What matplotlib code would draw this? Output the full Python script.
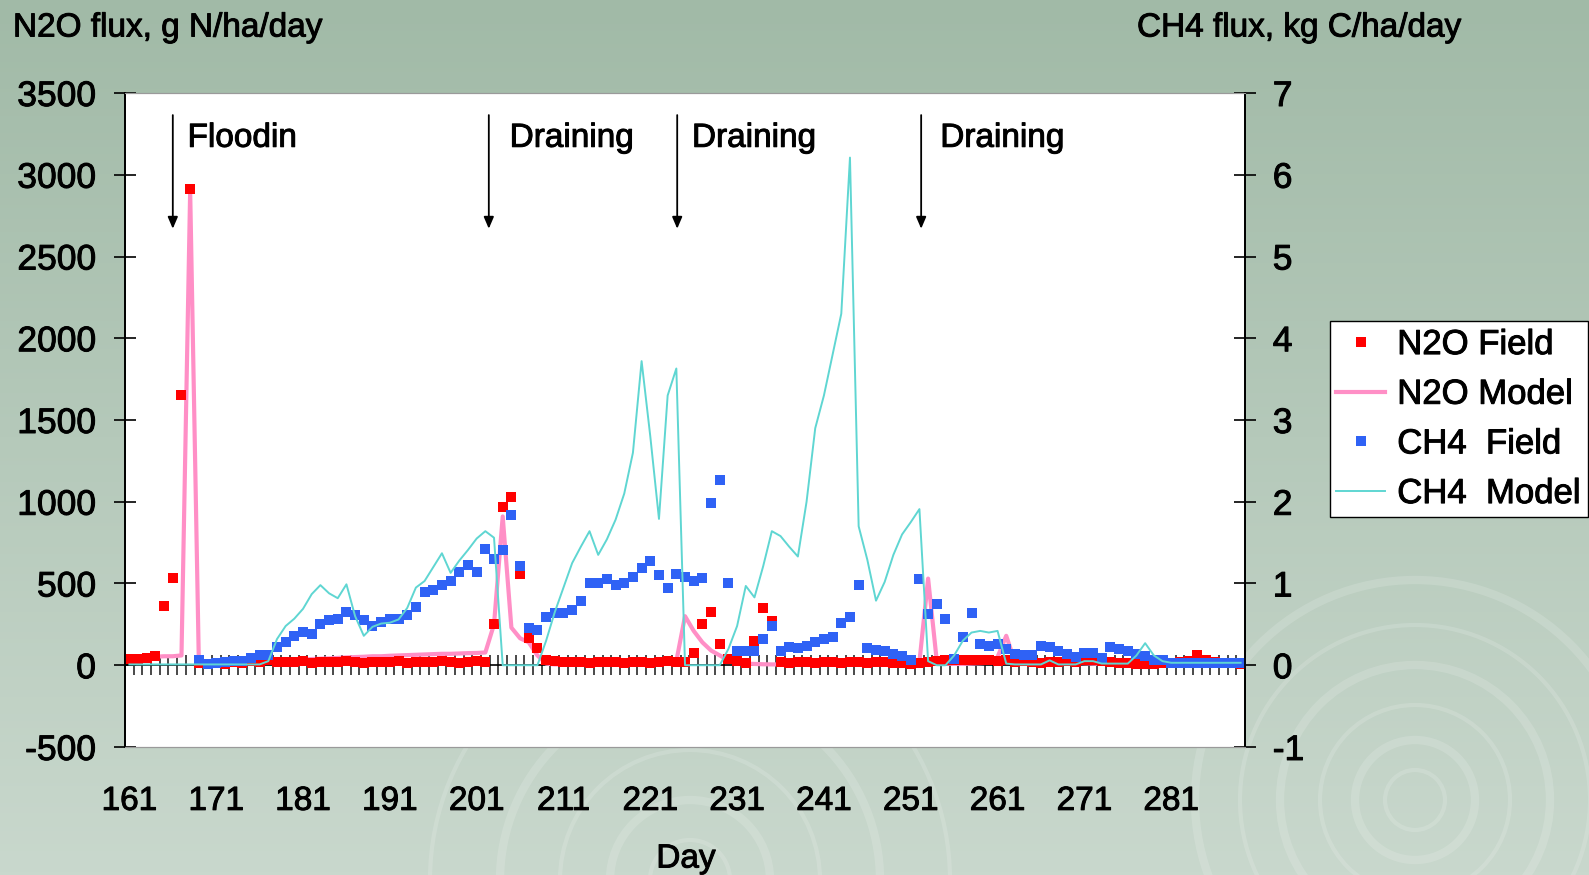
import numpy as np
import matplotlib.pyplot as plt
import matplotlib.patheffects as pe
from matplotlib.colors import LinearSegmentedColormap
from matplotlib.patches import Circle

plt.rcParams['font.family'] = ['Liberation Sans', 'DejaVu Sans']
plt.rcParams['axes.unicode_minus'] = False

# --- data: daily values, day of year 161..289 ---
days = np.arange(161, 290)

n2o_field = [
    40, 38, 42, 58, 360, 535, 1653, 2915,
    15, 10, 12, 8, 20, 15, 25, 18, 30, 22, 20, 18, 25, 15, 20, 22, 18, 25, 20, 15,
    22, 18, 20, 25, 15, 20, 18, 22, 25, 20, 15, 20, 25, 18,
    250, 966, 1030, 556, 166, 105,
    30, 25, 20, 22, 18, 15, 20, 18, 22, 15, 20, 18, 15, 20, 25, 20, 18,
    77, 253, 327, 131, 40, 25, 15, 151, 348, 273,
    20, 15, 18, 22, 15, 20, 18, 15, 20, 18,
    15, 20, 18, 15, 12, 10, 15, 20, 25, 30,
    30, 35, 30, 35, 30, 25, 30, 20, 25, 20,
    15, 20, 18, 25, 20, 30, 35, 25, 20, 15,
    12, 10, 8, 10, 12, 15, 20, 25, 65, 35,
    20, 15, 12, 10,
]

n2o_model = [
    50, 50, 50, 52, 55, 55, 60, 2900,
    15, 10, 12, 14, 16, 18, 20, 22, 25, 28, 30, 32,
    35, 38, 40, 42, 45, 48, 50, 52, 55, 55,
    58, 60, 62, 64, 66, 68, 70, 70, 72, 74, 75, 78,
    250, 910, 230, 165, 140, 60, 10,
    5, 5, 5, 6, 6, 7, 8, 8, 9, 10, 10, 12, 14, 18,
    25, 300, 210, 140, 90, 60, 30, 15,
    10, 8, 6, 5, 5, 5, 4, 4, 4, 4, 4, 4, 4, 5, 5, 5, 6, 6, 8,
    10, 20, 530, 25, 10,
    8, 8, 10, 12, 15, 50, 180, 20,
    10, 8, 8, 10, 12, 15, 15, 12, 10, 8, 8, 10, 12, 10, 8, 8, 10, 12, 15, 15,
    12, 10, 8, 8, 6, 6,
]

ch4_days = np.arange(169, 290)
ch4_field = [
    0.06, 0.02, 0.03, 0.04, 0.05, 0.05, 0.09, 0.13, 0.13, 0.22,
    0.29, 0.36, 0.41, 0.38, 0.50, 0.55, 0.57, 0.65, 0.61, 0.55,
    0.48, 0.53, 0.57, 0.57, 0.61, 0.71, 0.90, 0.92, 0.98, 1.03,
    1.14, 1.23, 1.14, 1.42, 1.30, 1.41, 1.84, 1.22, 0.45, 0.43,
    0.59, 0.64, 0.64, 0.68, 0.79, 1.00, 1.00, 1.05, 0.98, 1.01,
    1.08, 1.19, 1.27, 1.11, 0.94, 1.12, 1.08, 1.03, 1.07, 1.99,
    2.27, 1.00, 0.17, 0.18, 0.18, 0.32, 0.48, 0.17, 0.22, 0.21,
    0.24, 0.28, 0.32, 0.34, 0.52, 0.59, 0.98, 0.21, 0.19, 0.17,
    0.14, 0.11, 0.06, 1.05, 0.63, 0.75, 0.57, 0.08, 0.34, 0.64,
    0.26, 0.24, 0.26, 0.20, 0.14, 0.12, 0.12, 0.24, 0.22, 0.18,
    0.14, 0.10, 0.15, 0.15, 0.09, 0.22, 0.20, 0.17, 0.14, 0.11,
    0.07, 0.07, 0.03, 0.03, 0.03, 0.03, 0.03, 0.03, 0.03, 0.03, 0.03,
]

ch4_model = [
    0.01, 0.01, 0.01, 0.01, 0.01, 0.01, 0.01, 0.01,
    0.01, 0.01, 0.01, 0.01, 0.01, 0.01, 0.01, 0.01,
    0.05, 0.32, 0.48, 0.57, 0.69, 0.87, 0.98, 0.88, 0.82, 0.99,
    0.60, 0.36, 0.47, 0.51, 0.52, 0.56, 0.70, 0.95, 1.03, 1.20,
    1.37, 1.13, 1.28, 1.41, 1.55, 1.64, 1.56, 0.00, 0.00, 0.00,
    0.00, 0.00, 0.30, 0.65, 0.95, 1.25, 1.45, 1.64, 1.35, 1.54,
    1.78, 2.10, 2.60, 3.72, 2.80, 1.79, 3.30, 3.63, 0.00, 0.00,
    0.00, 0.00, 0.00, 0.20, 0.48, 0.97, 0.83, 1.21, 1.64, 1.58,
    1.45, 1.33, 2.00, 2.90, 3.30, 3.80, 4.30, 6.21, 1.70, 1.29,
    0.79, 1.02, 1.35, 1.60, 1.75, 1.91, 0.05, 0.00, 0.00, 0.12,
    0.30, 0.40, 0.42, 0.40, 0.42, 0.02, 0.01, 0.01, 0.01, 0.01,
    0.06, 0.01, 0.01, 0.01, 0.05, 0.05, 0.02, 0.02, 0.02, 0.02,
    0.12, 0.27, 0.12, 0.05, 0.03, 0.03, 0.03, 0.03, 0.03, 0.03, 0.03, 0.03, 0.03,
]

# management events (arrow day, label start day)
event_days = [166.0, 202.4, 224.1, 252.2]
event_text = ["Floodin", "Draining", "Draining", "Draining"]
event_text_days = [167.7, 204.8, 225.8, 254.4]

x_labels = np.arange(161, 290, 10)
n2o_ticks = np.arange(-500, 3501, 500)
ch4_ticks = np.arange(-1, 8, 1)

RED = "#ff0000"
PINK = "#ff8fc6"
BLUE = "#2f62f5"
CYAN = "#5fd6d2"
FS = 24

fig = plt.figure(figsize=(15.89, 8.75), dpi=100)

# slide background: soft green gradient with faint rings
bg = fig.add_axes([0, 0, 1, 1], zorder=-10)
cmap = LinearSegmentedColormap.from_list("bg", ["#a1baa7", "#c9d8cd"])
bg.imshow(np.linspace(0, 1, 256).reshape(-1, 1), aspect="auto", cmap=cmap,
          extent=[0, 1589, 875, 0])
for cx, cy, radii in [(1415, 800, [30, 60, 95, 135, 175, 220]),
                      (690, 880, [40, 80, 130, 190, 260])]:
    for i, r in enumerate(radii):
        bg.add_patch(Circle((cx, cy), r, fill=False, ec="white",
                            lw=6 if i % 2 else 3, alpha=0.15))
bg.set_xlim(0, 1589)
bg.set_ylim(875, 0)
bg.axis("off")

ax = fig.add_axes([0.0787, 0.1463, 0.7048, 0.7474])
ax.set_facecolor("white")
ax.set_xlim(160.5, 289.5)
ax.set_ylim(-500, 3500)
ax2 = ax.twinx()
ax2.set_ylim(-1, 7)

# N2O on the primary axis
h1, = ax.plot(days, n2o_model, color=PINK, lw=3, zorder=2, label="N2O Model")
h0, = ax.plot(days, n2o_field, ls="none", marker="s", ms=6.5, mew=0,
              color=RED, zorder=3, label="N2O Field")

# CH4 on the secondary axis
h2, = ax2.plot(ch4_days, ch4_field, ls="none", marker="s", ms=6.5, mew=0,
               color=BLUE, zorder=2, label="CH4  Field")
h3, = ax2.plot(days, ch4_model, color=CYAN, lw=1.4, zorder=3, label="CH4  Model")

# zero line with a tick at every day boundary
sec = ax.secondary_xaxis(0, transform=ax.transData)
sec.set_xticks(np.arange(161.5, 289.0, 1.0))
sec.tick_params(direction="inout", length=14, width=1.3, color="#3a3a3a",
                labelbottom=False)
sec.spines["bottom"].set_linewidth(1.2)

ax.set_xticks(x_labels)
ax.set_xticklabels([str(d) for d in x_labels])
ax.tick_params(axis="x", length=0, pad=28, labelsize=FS)
ax.set_yticks(n2o_ticks)
ax.tick_params(axis="y", direction="inout", length=16, width=1.2, pad=13,
               labelsize=25.5)
ax2.set_yticks(ch4_ticks)
ax2.tick_params(axis="y", direction="inout", length=16, width=1.2, pad=12,
                labelsize=25.5)

for a in (ax, ax2):
    a.spines["top"].set_color("#9a9a9a")
    a.spines["bottom"].set_color("#9a9a9a")
    a.spines["left"].set_linewidth(1.3)
    a.spines["right"].set_linewidth(1.3)

for xd, txt, xt in zip(event_days, event_text, event_text_days):
    ax.annotate("", xy=(xd, 2670), xytext=(xd, 3365),
                arrowprops=dict(arrowstyle="-|>,head_length=0.7,head_width=0.3",
                                color="black", lw=1.3, shrinkA=0, shrinkB=0))
    ax.text(xt, 3223, txt, fontsize=FS, va="center", ha="left")

fig.text(13 / 1589, 1 - 28 / 875, "N2O flux, g N/ha/day", fontsize=FS,
         va="center", ha="left")
fig.text(1137 / 1589, 1 - 28 / 875, "CH4 flux, kg C/ha/day", fontsize=FS,
         va="center", ha="left")
fig.text(686 / 1589, 1 - 859 / 875, "Day", fontsize=FS, va="center", ha="center")

leg = fig.legend(handles=[h0, h1, h2, h3], loc="upper left",
                 bbox_to_anchor=(0.8367, 0.633), fontsize=25, frameon=True,
                 fancybox=False, edgecolor="black", framealpha=1,
                 handlelength=1.4, handletextpad=0.35, labelspacing=0.48,
                 borderpad=0.2, borderaxespad=0)
leg.get_frame().set_linewidth(1.0)

# slightly heavier glyphs, like the projected slide text
fig.canvas.draw()
for t in fig.findobj(lambda o: hasattr(o, "get_text") and hasattr(o, "set_path_effects")):
    t.set_path_effects([pe.withStroke(linewidth=0.7, foreground="black")])

fig.savefig("out.png", dpi=100)
